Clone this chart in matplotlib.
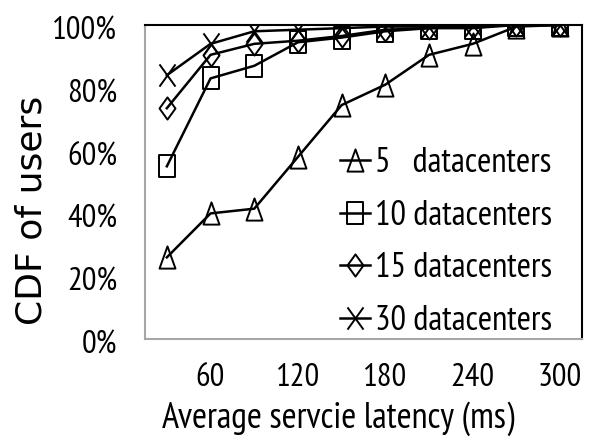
import matplotlib
matplotlib.use("Agg")
import matplotlib.pyplot as plt
from matplotlib.path import Path
from matplotlib.ticker import FixedLocator, FuncFormatter
from matplotlib.transforms import ScaledTranslation

NARROW = ['PT Sans Narrow', 'DejaVu Sans']
plt.rcParams['font.family'] = NARROW
plt.rcParams['font.weight'] = 'normal'

# Average service latency (ms) and CDF of users (%)
latency = [30, 60, 90, 120, 150, 180, 210, 240, 270, 300]
cdf_5 = [26, 40, 41.5, 58, 74.5, 81, 90.5, 94, 99.5, 100]
cdf_10 = [55, 83, 87, 94.5, 96, 98, 99, 99, 100, 100]
cdf_15 = [73.5, 90.5, 94, 95, 96.5, 98.5, 99, 99.5, 100, 100]
cdf_30 = [84, 94, 98, 98.5, 99, 99.5, 99.5, 100, 100, 100]
series_labels = ["5   datacenters", "10 datacenters", "15 datacenters", "30 datacenters"]
x_ticks = [60, 120, 180, 240, 300]
y_ticks = [0, 20, 40, 60, 80, 100]

# Hollow, slightly tall marker shapes
M, L, C = Path.MOVETO, Path.LINETO, Path.CLOSEPOLY
w = 0.36
tri = Path([(-w, -0.5), (w, -0.5), (0, 0.5), (-w, -0.5)], [M, L, L, C])
sq = Path([(-w, -0.5), (w, -0.5), (w, 0.5), (-w, 0.5), (-w, -0.5)], [M, L, L, L, C])
dia = Path([(0, -0.5), (w, 0), (0, 0.5), (-w, 0), (0, -0.5)], [M, L, L, L, C])
cross = Path([(-w, -0.5), (w, 0.5), (-w, 0.5), (w, -0.5)], [M, L, M, L])

W, H = 590, 442
fig = plt.figure(figsize=(W / 100, H / 100), dpi=100)
x0, x1, y0, y1 = 145, 582, 25, 339  # plot area in pixels from top-left
ax = fig.add_axes([x0 / W, 1 - y1 / H, (x1 - x0) / W, (y1 - y0) / H])

for vals, mk, lab in zip([cdf_5, cdf_10, cdf_15, cdf_30], [tri, sq, dia, cross], series_labels):
    ax.plot(latency, vals, color='black', lw=1.8, marker=mk, markersize=16,
            mfc='none', mec='black', mew=1.4, label=lab)

ax.set_xlim(15, 315)
ax.set_ylim(0, 100)
ax.xaxis.set_major_locator(FixedLocator(x_ticks))
ax.yaxis.set_major_locator(FixedLocator(y_ticks))
ax.yaxis.set_major_formatter(FuncFormatter(lambda v, p: f"{int(v)}%"))
ax.tick_params(axis='both', length=0, labelsize=23.5, colors='black')
ax.tick_params(axis='y', pad=20)
ax.tick_params(axis='x', pad=17)
for lbl in ax.get_yticklabels():
    lbl.set_transform(lbl.get_transform() + ScaledTranslation(0, -0.03, fig.dpi_scale_trans))

for s in ['left', 'bottom']:
    ax.spines[s].set_color('#a6a6a6')
    ax.spines[s].set_linewidth(1.5)
for s in ['top', 'right']:
    ax.spines[s].set_color('black')
    ax.spines[s].set_linewidth(1.5)

ax.set_xlabel("Average servcie latency (ms)", fontsize=26)
ax.xaxis.label.set_va('center')
ax.xaxis.set_label_coords((338 - x0) / (x1 - x0), (y1 - 419) / (y1 - y0))

ax.set_ylabel("CDF of users", fontsize=26, family='DejaVu Sans')
ax.yaxis.label.set_va('center')
ax.yaxis.set_label_coords((32 - x0) / (x1 - x0), (y1 - 210) / (y1 - y0))

ax.legend(loc='upper left', bbox_to_anchor=((340 - x0) / (x1 - x0), (y1 - 147) / (y1 - y0)),
          frameon=False, fontsize=24.8, handlelength=0.87, handletextpad=0.15,
          labelspacing=0.6, borderaxespad=0, borderpad=0)

fig.savefig("out.png", dpi=100)
